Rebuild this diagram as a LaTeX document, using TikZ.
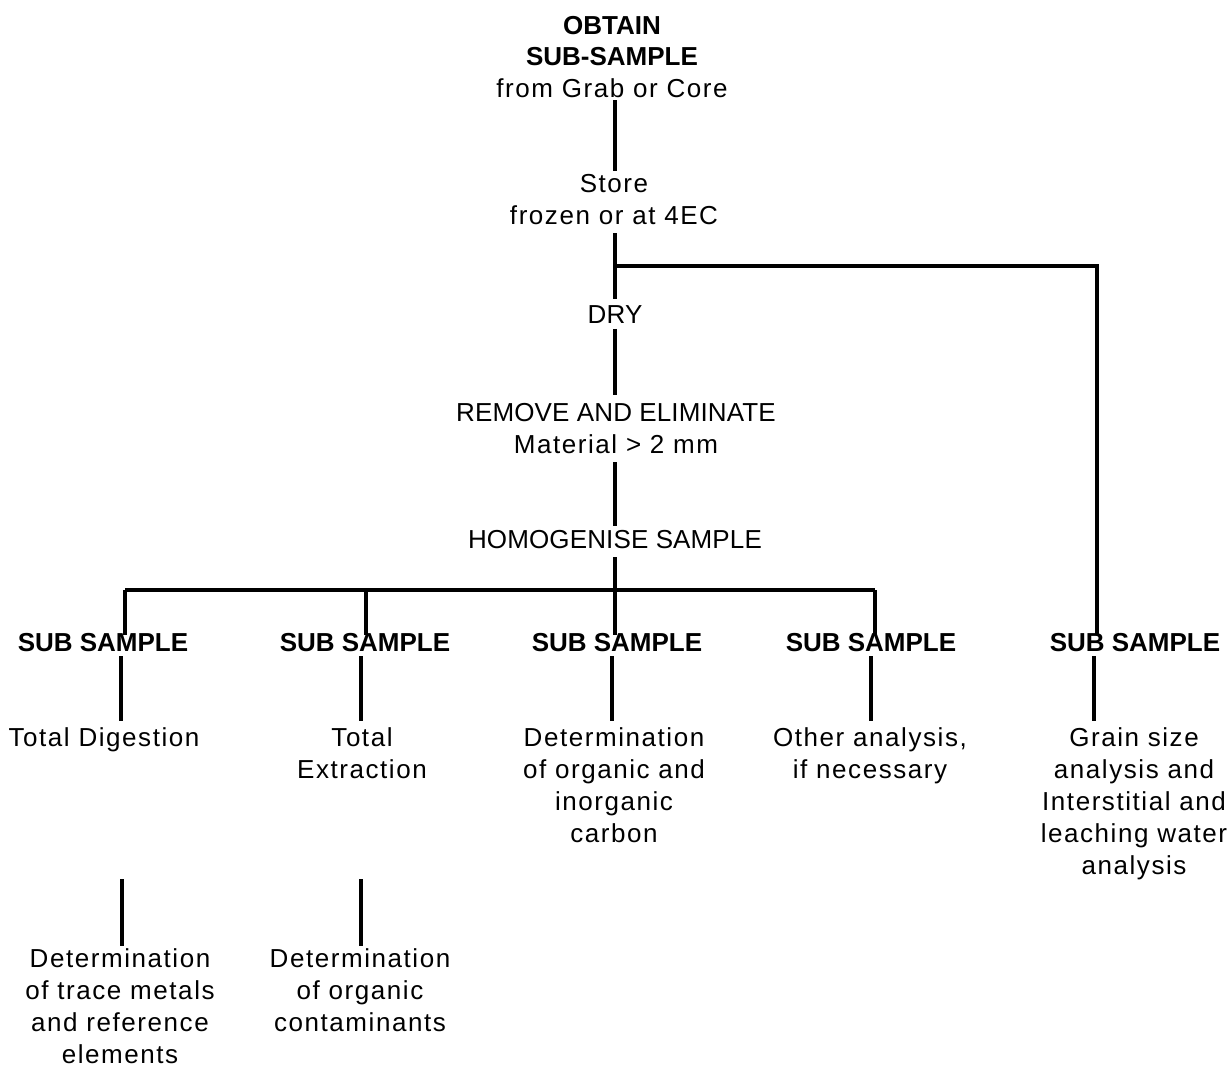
\documentclass[tikz,border=0pt]{standalone}
\usepackage{fontspec}
\setmainfont{Liberation Sans}[UprightFeatures={LetterSpace=6},BoldFeatures={LetterSpace=0}]
\newfontfamily\capsfont{Liberation Sans}[LetterSpace=0.5]
\newcommand{\capsline}[1]{{\capsfont #1}}
\begin{document}
\begin{tikzpicture}[x=0.75pt,y=-0.75pt,
  txt/.style={anchor=north,align=center,inner sep=0pt,outer sep=2.25pt,
    font=\fontsize{19.5pt}{24pt}\selectfont},
  subs/.style={txt,font=\fontsize{19.5pt}{24pt}\selectfont\bfseries},
  ln/.style={line width=3pt,line join=miter}]
\useasboundingbox (0,0) rectangle (1228,1067);
% x positions of connectors
\coordinate (T) at (615,0);
\coordinate (U1) at (125,0); \coordinate (U2) at (366,0); \coordinate (U3) at (615,0);
\coordinate (U4) at (875,0); \coordinate (U5) at (1097,0);
\coordinate (L1) at (121,0); \coordinate (L2) at (361,0); \coordinate (L3) at (612,0);
\coordinate (L4) at (871,0); \coordinate (L5) at (1094,0);
% nodes
\node[txt] (obtain) at (612,13) {\textbf{OBTAIN}\\[-0.4pt]\textbf{SUB-SAMPLE}\\[-0.4pt]from Grab or Core};
\node[txt] (store) at (614,171) {Store\\frozen or at 4EC};
\node[txt] (dry) at (615,303) {\capsline{DRY}};
\node[txt] (remove) at (616,400) {\capsline{REMOVE AND ELIMINATE}\\Material > 2 mm};
\node[txt] (homog) at (615,527) {\capsline{HOMOGENISE SAMPLE}};
\node[subs] (s1) at (103,630) {SUB SAMPLE};
\node[subs] (s2) at (365,630) {SUB SAMPLE};
\node[subs] (s3) at (617,630) {SUB SAMPLE};
\node[subs] (s4) at (871,630) {SUB SAMPLE};
\node[subs] (s5) at (1135,630) {SUB SAMPLE};
\node[txt] (r1) at (104,725) {Total Digestion};
\node[txt] (r2) at (362,725) {Total\\Extraction};
\node[txt] (r3) at (614,725) {Determination\\of organic and\\inorganic\\carbon};
\node[txt] (r4) at (870,725) {Other analysis,\\if necessary};
\node[txt] (r5) at (1134,725) {Grain size\\analysis and\\Interstitial and\\leaching water\\analysis};
\node[txt] (b1) at (120,946) {Determination\\of trace metals\\and reference\\elements};
\node[txt] (b2) at (360,946) {Determination\\of organic\\contaminants};
% junction coordinates
\coordinate (j1) at (615,266);
\coordinate (j2) at (1097,266);
\coordinate (bar) at (615,590);
\coordinate (c1) at (122,879);
\coordinate (c2) at (361,879);
% connectors
\draw[ln] (obtain.south -| T) -- (store.north -| T);
\draw[ln,shorten <=4.5pt,shorten >=3pt] (store.south -| T) -- (dry.north -| T);
\draw[ln] (j1) -- (j2) -- ([yshift=-3.5pt]s5.north -| U5);
\draw[ln,shorten <=1.5pt,shorten >=3.5pt] (dry.south -| T) -- (remove.north -| T);
\draw[ln,shorten <=4.5pt,shorten >=1pt] (remove.south -| T) -- (homog.north -| T);
\draw[ln,shorten <=4.5pt] (homog.south -| T) -- (bar);
\draw[ln] (bar -| U1) -- (bar -| U4);
\foreach \i in {1,2,3,4}{
  \draw[ln] (bar -| U\i) -- ([yshift=-3.5pt]s\i.north -| U\i);
}
\foreach \i in {1,...,5}{
  \draw[ln,shorten <=1.5pt,shorten >=3pt] (s\i.south -| L\i) -- (r\i.north -| L\i);
}
\draw[ln] (c1) -- (b1.north -| c1);
\draw[ln] (c2) -- (b2.north -| c2);
\end{tikzpicture}
\end{document}
